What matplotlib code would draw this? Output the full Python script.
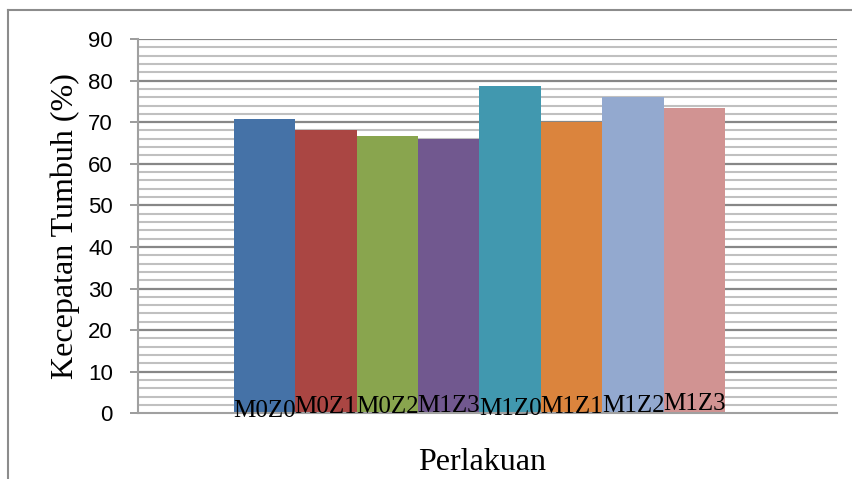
import numpy as np
import matplotlib
matplotlib.use("Agg")
import matplotlib.pyplot as plt
from matplotlib.lines import Line2D

# Kecepatan tumbuh per perlakuan
perlakuan = ["M0Z0", "M0Z1", "M0Z2", "M1Z3", "M1Z0", "M1Z1", "M1Z2", "M1Z3"]
kecepatan = [70.7, 68.0, 66.6, 65.9, 78.6, 70.1, 76.0, 73.3]
warna = ["#4572A7", "#AA4643", "#89A54E", "#71588F",
         "#4198AF", "#DB843D", "#93A9CF", "#D19392"]
y_ticks = list(range(0, 91, 10))

# geser vertikal label di kaki batang (pt)
label_offset = [-3, 0, 0, 1, -1.2, 0, 1, 2.4]

W, H = 853, 479
fig = plt.figure(figsize=(W / 100, H / 100), dpi=100)
ax = fig.add_axes([138 / W, 1 - 413.3 / H, (837 - 138) / W, (413.3 - 39) / H])

x = np.arange(len(perlakuan))
ax.bar(x, kecepatan, width=1.0, color=warna, zorder=3, linewidth=0)

ax.set_ylim(0, 90)
ax.set_xlim(-2.057, 9.318)

# garis bantu mayor dan minor
for v in np.arange(2, 90.1, 2):
    major = v % 10 == 0
    ax.axhline(v, color="#878787" if major else "#c0c0c0",
               lw=1.6 if major else 1.5, zorder=1)

ax.set_yticks(y_ticks)
ax.set_yticklabels([str(t) for t in y_ticks], fontsize=16, family="Liberation Sans")
ax.tick_params(axis="y", length=6, width=1.2, color="#8a8a8a", pad=12, direction="out")
ax.tick_params(axis="x", length=0, labelbottom=False)

for s in ["top", "right"]:
    ax.spines[s].set_visible(False)
ax.spines["left"].set_color("#a0a0a0")
ax.spines["left"].set_linewidth(1.5)
ax.spines["bottom"].set_color("#a0a0a0")
ax.spines["bottom"].set_linewidth(1.5)
ax.spines["bottom"].set_zorder(4)

for xi, nama, off in zip(x, perlakuan, label_offset):
    ax.annotate(nama, (xi, 0), xytext=(0, off), textcoords="offset points",
                ha="center", va="baseline", fontsize=18,
                family="Liberation Serif", color="black", zorder=5)

ax.set_ylabel("Kecepatan Tumbuh (%)", fontsize=23, family="Liberation Serif", labelpad=6)
fig.text(482 / W, 1 - 470 / H, "Perlakuan", fontsize=23, family="Liberation Serif",
         ha="center", va="baseline")

# bingkai area grafik
fig.add_artist(Line2D([8 / W, 8 / W], [0, 1 - 10 / H], color="#8c8c8c", lw=1.5))
fig.add_artist(Line2D([8 / W, 1], [1 - 10 / H, 1 - 10 / H], color="#8c8c8c", lw=1.5))

fig.savefig("out.png", dpi=100)
